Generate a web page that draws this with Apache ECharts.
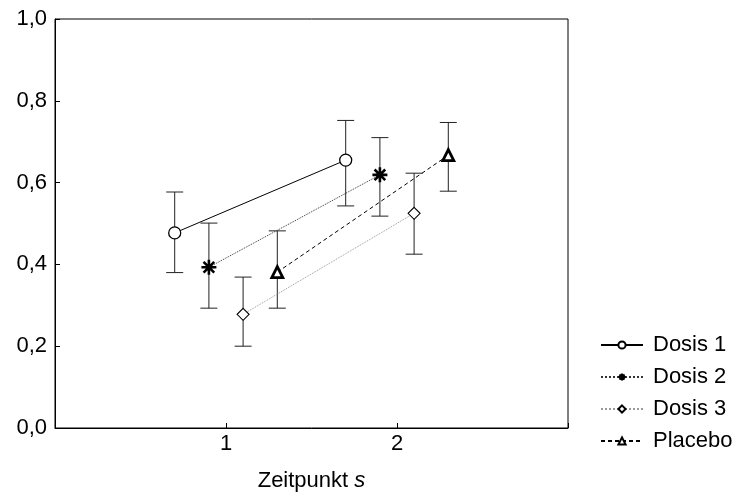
<!DOCTYPE html>
<html>
<head>
<meta charset="utf-8">
<script src="https://cdn.jsdelivr.net/npm/echarts@6/dist/echarts.min.js"></script>
<style>
  html, body { margin: 0; padding: 0; background: #fff; }
  #chart { width: 738px; height: 492px; }
</style>
</head>
<body>
<div id="chart"></div>
<script>
// Gruppen und Messwerte (Mittelwert mit Fehlerbalken)
var groupNames = ["Dosis 1", "Dosis 2", "Dosis 3", "Placebo"];
var xPos = [[0.7, 1.7], [0.9, 1.9], [1.1, 2.1], [1.3, 2.3]];
var means = [[0.477, 0.655], [0.393, 0.619], [0.278, 0.525], [0.381, 0.667]];
var lower = [[0.380, 0.543], [0.293, 0.518], [0.200, 0.425], [0.293, 0.579]];
var upper = [[0.577, 0.752], [0.501, 0.710], [0.369, 0.623], [0.482, 0.747]];
var xTickLabels = { 1: "1", 2: "2" };

var FONT = "'Liberation Sans', Arial, sans-serif";
var FS = 22;
var asterisk = "path://M10,0L10,20M0,10L20,10M2.9,2.9L17.1,17.1M2.9,17.1L17.1,2.9";

// Linien- und Symbolstil je Gruppe
var styles = [
  { symbol: "circle", size: 12, line: { color: "#000", type: "solid", width: 1 }, item: { color: "#fff", borderColor: "#000", borderWidth: 1.3 } },
  { symbol: asterisk, size: 15, line: { color: "#333", type: "dotted", width: 1 }, item: { color: "#000", borderColor: "#000", borderWidth: 2.6 } },
  { symbol: "diamond", size: 12, line: { color: "#999", type: "dotted", width: 1 }, item: { color: "#fff", borderColor: "#000", borderWidth: 1.1 } },
  { symbol: "triangle", size: 11, line: { color: "#000", type: [4, 3], width: 1 }, item: { color: "#fff", borderColor: "#000", borderWidth: 2.8 } }
];

var chart = echarts.init(document.getElementById("chart"));

var series = [];
for (var i = 0; i < groupNames.length; i++) {
  var errData = [];
  var lineData = [];
  for (var j = 0; j < xPos[i].length; j++) {
    errData.push([xPos[i][j], lower[i][j], upper[i][j]]);
    lineData.push([xPos[i][j], means[i][j]]);
  }
  // Fehlerbalken
  series.push({
    type: "custom",
    name: groupNames[i] + "_err",
    data: errData,
    z: 1,
    silent: true,
    renderItem: function (params, api) {
      var lo = api.coord([api.value(0), api.value(1)]);
      var hi = api.coord([api.value(0), api.value(2)]);
      var w = 8.5;
      var st = { stroke: "#222", lineWidth: 1 };
      return {
        type: "group",
        children: [
          { type: "line", shape: { x1: lo[0], y1: lo[1], x2: hi[0], y2: hi[1] }, style: st },
          { type: "line", shape: { x1: lo[0] - w, y1: lo[1], x2: lo[0] + w, y2: lo[1] }, style: st },
          { type: "line", shape: { x1: hi[0] - w, y1: hi[1], x2: hi[0] + w, y2: hi[1] }, style: st }
        ]
      };
    }
  });
  series.push({
    type: "line",
    name: groupNames[i],
    data: lineData,
    z: 3,
    symbol: styles[i].symbol,
    symbolSize: styles[i].size,
    showAllSymbol: true,
    lineStyle: styles[i].line,
    itemStyle: styles[i].item,
    emphasis: { disabled: true },
    animation: false
  });
}

chart.setOption({
  animation: false,
  grid: {
    left: 55, right: 170, top: 19, bottom: 64,
    outerBoundsMode: "none",
    containLabel: false,
    show: true, borderColor: "#000", borderWidth: 1, backgroundColor: "#fff"
  },
  legend: {
    orient: "vertical",
    left: 595,
    top: 329,
    itemWidth: 42,
    itemHeight: 9,
    itemGap: 10,
    data: groupNames,
    textStyle: { fontSize: FS, color: "#000", fontFamily: FONT, padding: [0, 0, 0, 5] }
  },
  xAxis: {
    type: "value",
    min: 0, max: 3, interval: 1,
    name: "{n|Zeitpunkt }{i|s}",
    nameLocation: "middle",
    nameGap: 42,
    nameTextStyle: {
      fontSize: FS, fontFamily: FONT, color: "#000",
      rich: {
        n: { fontSize: FS, color: "#000", fontFamily: FONT },
        i: { fontSize: FS, color: "#000", fontStyle: "italic", fontFamily: FONT }
      }
    },
    axisLine: { lineStyle: { color: "#000" } },
    axisTick: { inside: true, length: 5, lineStyle: { color: "#000" } },
    axisLabel: {
      fontSize: FS, fontFamily: FONT, color: "#000", margin: 5,
      formatter: function (v) { return xTickLabels[v] || ""; }
    },
    splitLine: { show: false }
  },
  yAxis: {
    type: "value",
    min: 0, max: 1, interval: 0.2,
    axisLine: { show: true, lineStyle: { color: "#000" } },
    axisTick: { show: true, inside: true, length: 5, lineStyle: { color: "#000" } },
    axisLabel: {
      fontSize: FS, fontFamily: FONT, color: "#000", margin: 8,
      formatter: function (v) { return v.toFixed(1).replace(".", ","); }
    },
    splitLine: { show: false }
  },
  series: series
});
</script>
</body>
</html>
